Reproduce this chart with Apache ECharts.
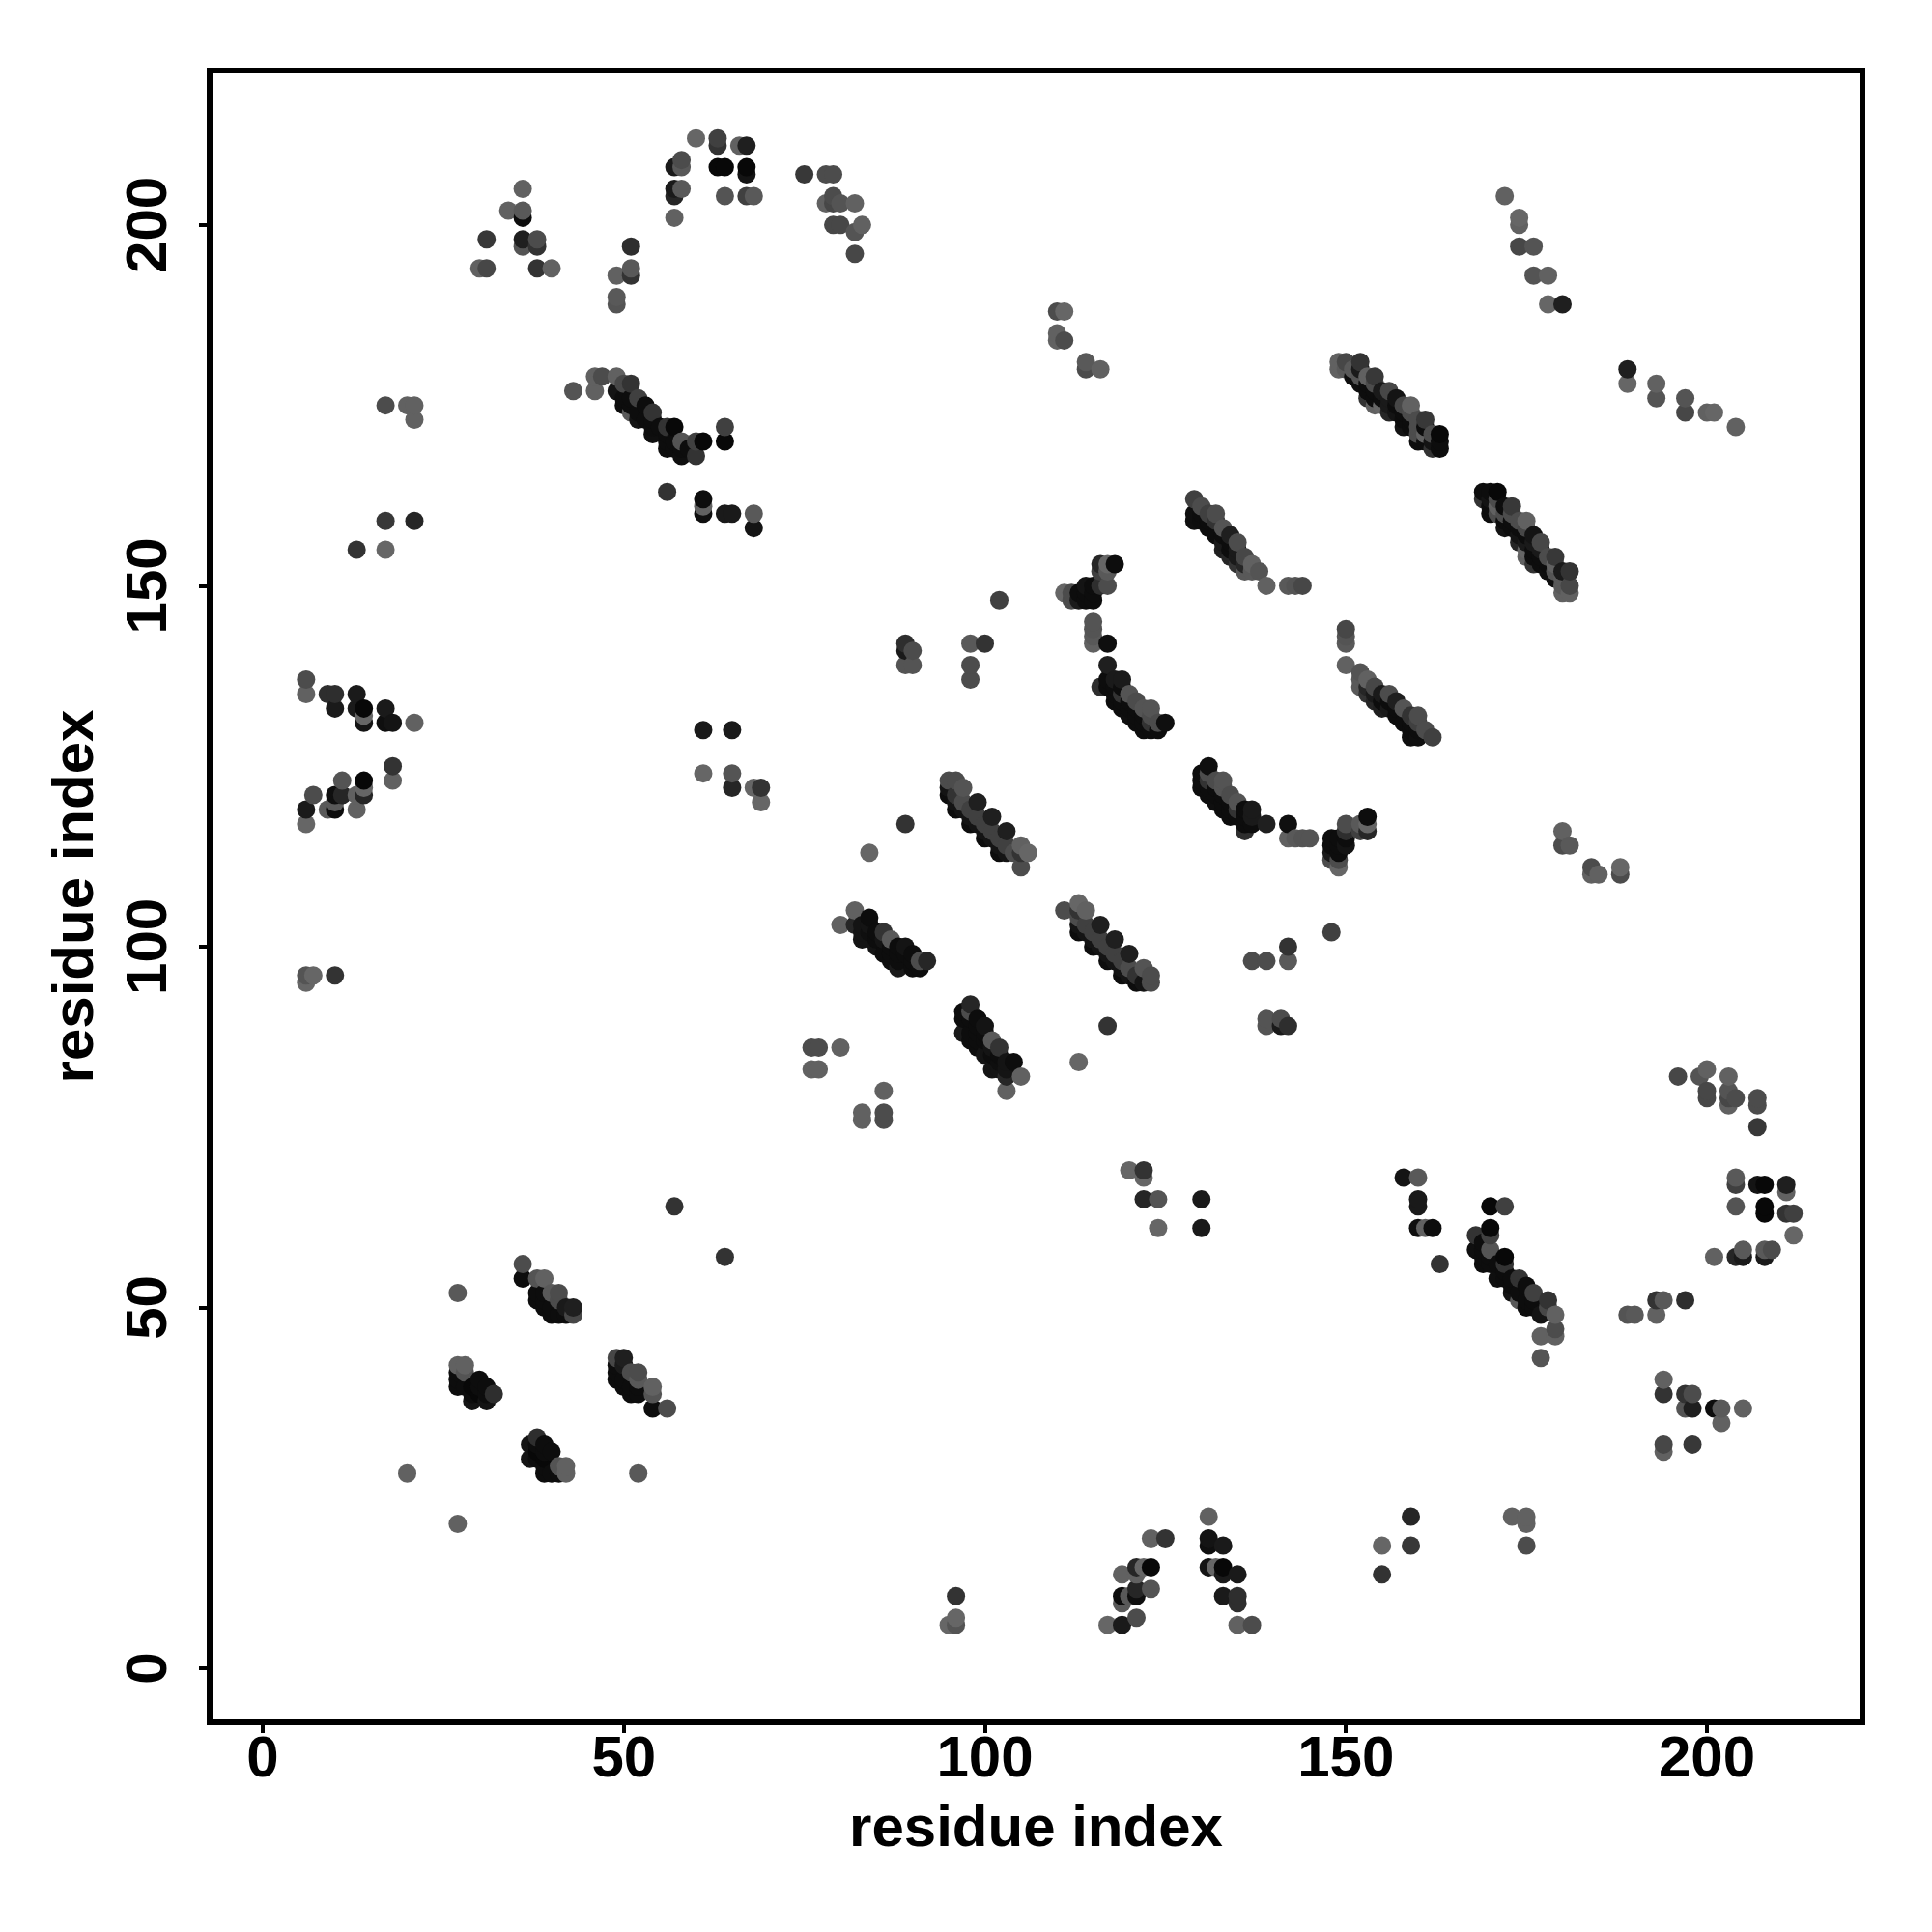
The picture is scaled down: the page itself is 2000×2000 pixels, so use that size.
<!DOCTYPE html>
<html><head><meta charset="utf-8">
<style>html,body{margin:0;padding:0;background:#fff}#c{width:2000px;height:2000px}</style>
<script src="https://cdn.jsdelivr.net/npm/echarts@6/dist/echarts.min.js"></script>
</head><body><div id="c"></div>
<script>
// Contact pairs: [residue a, residue b, grey score]. Map is symmetric.
const tailSheet = [[43,177,.33],[46,179,.38],[46,177,.38],[47,179,.3],[49,179,.38],[49,177,.08],[50,178,.28],[51,178,.2],[50,176,.05],[50,175,.05],[51,176,.05],[52,176,.25],[51,175,.05],[51,174,.35],[52,174,.05],[52,173,.08],[53,175,.05],[53,173,.05],[54,174,.2],[54,173,.05],[54,172,.05],[54,171,.06],[55,172,.05],[56,172,.2],[57,172,.03],[56,171,.05],[56,170,.05],[56,169,.05],[57,170,.05],[58,170,.33],[57,169,.05],[58,169,.05],[58,168,.06],[59,169,.05],[60,170,.25],[61,170,.03],[60,168,.2],[64,172,.25],[64,170,.03],[56,163,.2],[61,162,.05],[61,161,.38],[61,160,.06],[64,160,.1],[65,160,.1],[68,160,.35],[68,158,.08]];
const topArc = [[57,208,.1],[58,209,.3],[58,208,.35],[57,205,.1],[57,204,.15],[58,205,.35],[57,201,.38],[60,212,.4],[63,212,.25],[63,211,.2],[63,208,.03],[64,208,.03],[64,204,.33],[66,211,.38],[67,211,.12],[67,208,.03],[67,207,.08],[67,204,.25],[68,204,.35],[75,207,.22],[78,207,.3],[79,207,.3],[78,203,.38],[79,204,.3],[79,203,.28],[80,203,.33],[79,200,.28],[80,200,.28],[82,203,.38],[82,199,.33],[83,200,.38],[82,196,.28]];
const topLeft = [[30,194,.38],[31,194,.28],[31,198,.22],[34,202,.38],[36,205,.38],[36,202,.35],[36,201,.05],[36,198,.12],[36,197,.33],[38,198,.3],[38,197,.2],[38,194,.2],[40,194,.38],[49,193,.38],[49,190,.35],[49,189,.33],[51,197,.18],[51,194,.35],[51,193,.2]];
const leftColumn = [[17,175,.3],[20,175,.38],[21,175,.38],[21,173,.38],[17,159,.22],[21,159,.15],[13,155,.2],[17,155,.4],[6,137,.3],[6,135,.38],[9,135,.18],[10,135,.18],[10,133,.1],[13,135,.1],[13,133,.1],[14,133,.03],[14,132,.4],[14,131,.08],[17,133,.1],[17,131,.06],[18,131,.08],[21,131,.38],[18,125,.2],[18,123,.38],[14,123,.03],[14,122,.4],[11,123,.33],[14,121,.15],[13,121,.38],[10,121,.06],[11,121,.15],[7,121,.3],[6,119,.1],[9,119,.35],[10,119,.05],[10,120,.35],[13,119,.38],[6,117,.4],[10,96,.2],[6,96,.33],[7,96,.4],[6,95,.4]];
const midScatter = [[61,130,.1],[65,130,.1],[61,124,.4],[65,124,.33],[65,122,.15],[68,122,.4],[69,122,.2],[69,120,.4],[89,142,.18],[89,141,.1],[90,141,.3],[89,139,.33],[90,139,.33],[89,117,.2],[84,113,.4],[102,148,.25],[98,142,.35],[100,142,.2],[98,139,.3],[98,137,.3],[110,188,.3],[111,188,.4],[110,185,.38],[110,184,.38],[111,184,.3],[114,181,.35],[114,180,.3],[116,180,.38],[172,204,.38],[174,201,.4],[174,200,.38],[174,197,.28],[176,197,.33],[176,193,.33],[178,193,.38],[178,189,.4],[180,189,.12],[189,180,.12],[57,64,.2],[27,52,.35],[20,27,.38],[76,86,.3],[77,86,.3],[76,83,.38],[77,83,.38],[80,86,.38],[113,84,.38],[117,89,.12],[137,98,.25],[139,98,.25],[142,98,.38],[142,100,.2],[148,102,.25]];
const rightTail = [[189,178,.38],[193,178,.35],[193,176,.35],[197,176,.35],[197,174,.28],[200,174,.35],[201,174,.4],[204,172,.35]];
const archA = [[111,149,.4],[112,149,.3],[112,148,.3],[113,148,.1],[114,148,.05],[114,150,.08],[115,148,.05],[115,150,.05],[116,150,.18],[117,150,.3],[116,153,.15],[117,153,.4],[117,152,.35],[118,153,.05],[116,152,.25],[114,149,.05],[113,149,.05],[115,149,.05],[115,145,.33],[115,144,.33],[115,143,.35],[115,142,.38],[117,142,.06],[117,139,.12],[116,136,.18],[117,137,.05],[117,136,.05],[118,137,.1],[119,137,.1],[118,134,.05],[120,135,.33],[121,134,.3],[119,135,.2],[120,132,.06],[122,133,.33],[123,133,.33],[123,132,.3],[121,131,.05],[122,130,.05],[123,130,.05],[124,130,.05],[125,131,.06],[124,131,.3],[121,132,.05],[119,133,.05],[118,135,.05],[119,134,.05],[120,133,.05],[122,131,.05],[123,131,.2],[118,136,.05],[119,136,.05],[120,134,.05],[121,133,.05],[122,132,.05]];
const archB = [[129,162,.25],[130,161,.3],[129,159,.06],[129,160,.06],[131,160,.25],[132,160,.3],[131,158,.05],[133,158,.33],[133,155,.12],[133,156,.1],[135,156,.3],[134,156,.05],[135,153,.2],[136,154,.28],[136,152,.35],[137,153,.38],[138,152,.33],[137,152,.35],[139,150,.38],[142,150,.35],[143,150,.33],[144,150,.28],[132,157,.05],[134,155,.05],[132,159,.2],[130,159,.05],[135,154,.1],[130,160,.05],[131,159,.05],[133,157,.05],[134,157,.12],[136,153,.15],[134,154,.15],[135,155,.1]];
const sheetC = [[149,181,.38],[149,180,.38],[150,181,.28],[150,180,.35],[152,181,.2],[152,179,.33],[153,179,.38],[154,179,.22],[152,178,.06],[153,178,.05],[153,176,.2],[154,175,.38],[156,177,.28],[156,175,.1],[156,174,.15],[154,177,.05],[155,176,.05],[158,175,.28],[159,175,.38],[158,172,.08],[160,173,.3],[161,173,.22],[160,170,.05],[161,171,.38],[162,169,.2],[163,169,.05],[163,171,.03],[163,170,.05],[158,173,.05],[159,172,.05],[161,170,.05],[153,177,.05],[154,176,.05],[157,174,.08],[155,177,.1],[157,176,.08],[159,174,.3],[154,178,.3],[160,171,.3],[162,170,.08],[162,171,.3]];
const sheetD = [[169,163,.03],[170,163,.03],[171,163,.03],[169,162,.15],[170,160,.05],[171,161,.35],[173,161,.22],[172,158,.05],[174,159,.35],[175,159,.35],[175,158,.2],[174,156,.12],[175,155,.4],[177,156,.25],[176,153,.12],[179,154,.2],[178,152,.06],[180,151,.35],[181,152,.12],[181,150,.25],[180,149,.4],[181,149,.3],[172,161,.05],[175,156,.05],[176,155,.05],[177,153,.05],[178,153,.05],[180,150,.38],[175,157,.05],[173,159,.05],[174,158,.05],[170,161,.05],[171,160,.05],[172,159,.05],[173,158,.05],[174,157,.05],[176,156,.1],[176,154,.05],[177,154,.05],[178,154,.15],[179,152,.05],[179,151,.06],[180,152,.1],[172,160,.3],[173,160,.15],[177,155,.1]];
const sheetE = [[95,123,.3],[95,121,.05],[96,123,.3],[97,122,.33],[96,121,.2],[97,120,.3],[96,119,.05],[98,119,.25],[99,120,.12],[98,117,.05],[100,117,.25],[101,118,.12],[100,115,.05],[102,115,.25],[103,116,.12],[102,113,.05],[103,113,.08],[104,113,.3],[105,114,.38],[106,113,.4],[105,111,.3],[105,113,.2],[96,120,.08],[97,119,.08],[98,118,.08],[99,118,.25],[99,117,.08],[100,116,.08],[101,116,.25],[101,115,.08],[102,114,.08],[103,114,.25],[95,122,.08]];
const sheetF = [[80,103,.38],[82,105,.38],[84,104,.05],[84,103,.08],[82,103,.15],[83,101,.08],[86,102,.2],[87,101,.35],[86,99,.05],[88,97,.1],[89,100,.08],[89,99,.05],[90,97,.05],[91,97,.05],[91,98,.3],[92,98,.15],[88,99,.05],[87,99,.05],[85,100,.08],[85,102,.05],[85,101,.05],[86,101,.08],[87,100,.05],[88,100,.05],[90,98,.05],[87,98,.05],[88,98,.05],[83,103,.08],[83,102,.08],[84,102,.06],[90,99,.05]];
const lowSheetA = [[36,56,.3],[36,54,.05],[38,54,.33],[39,54,.38],[38,52,.05],[38,51,.05],[40,52,.35],[41,52,.3],[40,49,.05],[41,49,.05],[42,50,.1],[43,50,.12],[43,49,.28],[42,49,.05],[39,52,.05],[39,51,.05],[40,50,.05],[39,50,.05],[41,51,.3]];
const lowSheetB = [[27,42,.38],[28,42,.38],[28,41,.33],[27,40,.05],[27,39,.05],[28,39,.05],[30,40,.05],[30,39,.05],[29,37,.08],[31,37,.08],[32,38,.18],[29,38,.05],[31,38,.05],[31,39,.05],[29,39,.03],[30,38,.03],[27,41,.05]];
const tickValues = [0, 50, 100, 150, 200];
const axisTitle = 'residue index';

const contacts = [tailSheet, topArc, topLeft, leftColumn, midScatter, rightTail, archA, archB, sheetC, sheetD, sheetE, sheetF, lowSheetA, lowSheetB].flat();
const seen = new Map();
contacts.forEach(([a, b, s]) => {
  if (!seen.has(a + ',' + b)) { seen.set(a + ',' + b, [a, b, s]); seen.set(b + ',' + a, [b, a, s]); }
});
const points = [...seen.values()].sort((p, q) => p[0] - q[0] || p[1] - q[1]);

const font = {fontFamily: '"Liberation Sans"', fontWeight: 'bold', fontSize: 60, color: '#000'};
function axis(extra) {
  return Object.assign({
    type: 'value', name: axisTitle, nameLocation: 'middle', nameMoveOverlap: false,
    nameTextStyle: font, splitLine: {show: false},
    axisLine: {show: true, onZero: false, lineStyle: {color: '#000', width: 6}},
    axisTick: {show: true, length: 11, customValues: tickValues, lineStyle: {color: '#000', width: 4}}
  }, extra);
}
const chart = echarts.init(document.getElementById('c'), null, {renderer: 'canvas'});
chart.setOption({
  animation: false, backgroundColor: '#fff',
  grid: {left: 217, top: 73, width: 1711, height: 1710, show: true, borderColor: '#000', borderWidth: 6, backgroundColor: 'transparent'},
  xAxis: axis({min: -7.36, max: 221.54, nameGap: 81,
    axisLabel: Object.assign({customValues: tickValues, margin: 9}, font)}),
  yAxis: axis({min: -7.5, max: 221.4, nameGap: 108,
    axisLabel: Object.assign({customValues: tickValues, margin: 62, rotate: 90, align: 'center', verticalAlign: 'middle'}, font)}),
  visualMap: {show: false, type: 'continuous', dimension: 2, min: 0, max: 0.4, inRange: {color: ['#000000', '#666666']}},
  series: [{type: 'scatter', symbol: 'circle', symbolSize: 19, data: points, itemStyle: {opacity: 1}}]
});
</script></body></html>
